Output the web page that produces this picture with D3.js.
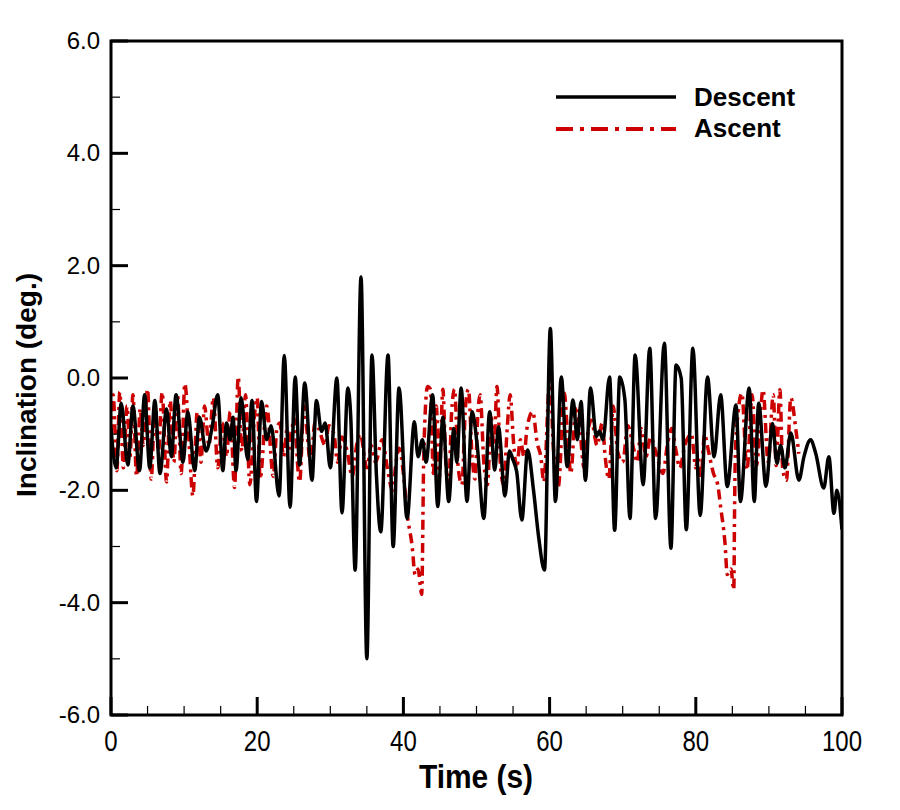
<!DOCTYPE html>
<html><head><meta charset="utf-8">
<script src="https://cdn.jsdelivr.net/npm/d3@7/dist/d3.min.js"></script>
<style>body{margin:0;background:#fff}</style>
</head><body>
<svg id="c" width="900" height="810"></svg>
<script>
const xTicks = [0, 20, 40, 60, 80, 100];
const yTicks = [-6, -4, -2, 0, 2, 4, 6];
const seriesNames = ["Descent", "Ascent"];

const descentT = [0,0.7,1.4,2.3,3.0,3.9,4.6,5.3,6.0,6.7,7.6,8.25,8.9,9.85,10.5,11.45,12.1,13.0,13.8,14.6,15.3,15.8,16.3,16.7,17.1,17.8,18.7,19.3,19.9,20.6,21.3,21.9,23.0,23.7,24.5,25.2,25.8,26.5,27.5,28.1,28.8,29.3,30.0,30.9,31.6,32.4,32.8,33.4,34.2,35.0,35.7,36.3,36.9,37.9,38.6,39.4,40.5,41.5,42.0,42.6,43.1,44.0,44.7,45.4,46.2,46.9,47.3,47.9,48.7,49.4,50.1,51.0,51.8,52.5,53.0,53.9,54.5,55.0,55.5,56.2,57.0,57.8,58.5,59.3,60.1,60.8,61.6,62.4,63.2,63.8,64.3,64.9,65.6,66.4,66.8,67.3,68.2,68.9,69.6,70.3,71.0,71.7,72.8,73.7,74.5,75.7,76.6,77.3,78.0,78.7,79.6,80.6,81.6,82.5,83.4,84.3,85.5,86.1,87.3,88.0,88.6,89.6,90.5,91.1,91.6,92.2,93.0,94.1,94.8,95.7,96.4,97.5,98.2,98.9,99.3,100];
const descentV = [-0.9,-1.6,-0.45,-1.55,-0.5,-1.65,-0.3,-1.6,-0.4,-1.7,-0.55,-1.4,-0.3,-1.5,-0.6,-1.65,-0.7,-1.3,-0.9,-0.3,-1.65,-0.8,-1.1,-0.7,-1.65,-0.35,-1.45,-0.4,-2.2,-0.42,-1.1,-0.85,-2.1,0.4,-2.3,0.02,-1.55,-0.09,-1.82,-0.4,-0.95,-0.8,-1.6,0.0,-2.4,-0.18,-0.7,-3.42,1.8,-5.0,0.41,-1.7,-2.74,0.41,-3.0,-0.18,-2.5,-0.78,-1.4,-1.1,-1.5,-0.3,-2.29,-0.7,-2.2,-0.9,-1.5,-0.18,-2.2,-0.6,-1.2,-2.5,-0.6,-1.64,-0.87,-2.1,-1.3,-1.46,-1.67,-2.53,-1.28,-2.0,-2.83,-3.42,0.88,-2.2,0.02,-1.58,-0.39,-1.1,-0.42,-1.82,-0.18,-1.04,-0.95,-1.1,0.02,-2.71,0.02,-0.39,-2.5,0.41,-1.9,0.53,-2.5,0.62,-3.03,0.23,0.0,-2.7,0.53,-2.45,0.02,-1.4,-0.3,-1.93,-0.48,-2.2,-0.18,-2.2,-0.45,-1.93,-0.81,-1.52,-1.2,-1.6,-0.98,-1.82,-1.4,-1.1,-1.34,-1.96,-1.4,-2.41,-2.0,-2.7];

const ascentT = [0,0.3,0.8,1.2,1.7,2.2,2.6,3.0,3.5,4.0,4.4,5.0,5.5,6.0,6.5,7.0,7.6,8.1,8.6,9.1,9.6,10.1,10.7,11.2,11.8,12.3,12.8,13.4,14.0,14.6,15.2,15.8,16.3,16.9,17.4,17.9,18.4,19.0,19.6,20.0,20.4,21.3,22.2,22.7,23.1,23.6,24.1,24.5,25.0,25.8,26.4,27.3,27.9,28.4,29.3,29.8,30.5,31.0,31.6,32.3,33.0,33.6,34.1,35.0,35.6,36.2,37.1,37.8,38.5,39.0,39.4,40.0,40.5,41.2,41.6,42.0,42.5,42.8,43.3,43.7,44.1,44.5,44.9,45.4,45.8,46.2,46.6,47.0,47.5,48.0,48.5,48.9,49.4,49.8,50.2,50.5,51.0,51.5,52.0,52.4,52.8,53.3,53.7,54.2,54.6,55.1,55.5,56.0,56.5,56.9,57.7,58.3,58.8,59.2,60.05,60.5,61.2,62.0,62.5,62.9,63.6,64.2,64.7,65.2,65.7,66.5,67.2,67.6,68.1,68.7,69.3,70.0,70.7,71.5,72.0,72.5,73.2,73.8,74.5,75.5,76.1,76.7,77.3,77.8,78.5,79.4,80.0,80.3,80.7,81.2,81.7,82.4,83.0,83.4,84.0,84.3,84.8,85.2,85.3,85.4,85.8,86.3,87.0,87.7,88.3,89.2,89.9,90.6,91.0,91.5,91.9,92.4,93.0,93.7,94.1];
const ascentV = [-1.0,-0.3,-1.65,-0.25,-1.6,-0.5,-1.4,-0.3,-1.75,-0.55,-1.2,-0.2,-1.8,-0.5,-1.3,-0.25,-1.85,-0.4,-1.5,-0.3,-1.7,-0.1,-1.2,-2.1,-0.6,-1.5,-0.5,-1.2,-0.35,-1.6,-0.8,-1.4,-0.6,-1.95,0.02,-1.3,-0.3,-1.9,-0.7,-0.35,-1.8,-0.5,-1.75,-0.9,-0.8,-1.4,-0.9,-1.25,-0.7,-1.85,-0.5,-1.5,-0.8,-0.9,-1.2,-0.85,-1.0,-1.5,-1.05,-1.3,-1.75,-1.2,-1.0,-1.6,-1.2,-1.5,-1.1,-1.6,-2.0,-1.5,-1.25,-1.7,-2.4,-3.0,-3.5,-3.4,-3.85,-1.3,-0.15,-0.2,-1.7,-0.5,-1.8,-0.2,-1.5,-1.9,-0.6,-0.2,-1.6,-1.9,-0.5,-0.2,-1.4,-1.8,-0.6,-0.3,-1.5,-1.9,-0.7,-1.2,-0.15,-1.6,-1.9,-0.9,-0.3,-1.2,-1.6,-1.1,-1.4,-0.9,-0.6,-1.16,-1.4,-1.85,0.02,-1.2,-1.93,-0.27,-1.1,-1.7,-0.5,-1.0,-1.6,-1.0,-0.75,-1.2,-0.8,-1.4,-1.8,-0.5,-1.3,-1.5,-0.85,-1.26,-1.5,-0.9,-1.4,-1.05,-1.3,-1.7,-1.2,-0.9,-1.3,-1.6,-1.2,-1.0,-1.6,-1.4,-1.8,-1.0,-1.28,-1.69,-1.9,-2.3,-2.95,-3.5,-3.4,-3.77,-2.4,-1.4,-0.6,-0.27,-1.64,-0.3,-1.56,-0.21,-1.5,-0.3,-1.56,-0.21,-1.64,-1.82,-0.35,-0.93,-1.35];

const svg = d3.select("#c");
const L = 111, R = 842, T = 41, B = 715;
const x = d3.scaleLinear().domain([0, 100]).range([L, R]);
const y = d3.scaleLinear().domain([-6, 6]).range([B, T]);

const line = d3.line().x(d => x(d[0])).y(d => y(d[1])).curve(d3.curveMonotoneX);
const dData = descentT.map((t, i) => [t, descentV[i]]);
const aData = ascentT.map((t, i) => [t, ascentV[i]]);

svg.append("clipPath").attr("id", "pc").append("rect")
  .attr("x", L).attr("y", T).attr("width", R - L).attr("height", B - T);

const red = "#cc0000";
svg.append("path").datum(aData).attr("d", line).attr("fill", "none")
  .attr("stroke", red).attr("stroke-width", 3.5).attr("stroke-dasharray", "10,5,3,5")
  .attr("clip-path", "url(#pc)");
svg.append("path").datum(dData).attr("d", line).attr("fill", "none")
  .attr("stroke", "#000").attr("stroke-width", 3.5).attr("stroke-linejoin", "round")
  .attr("clip-path", "url(#pc)");

// ticks (inside)
const g = svg.append("g").attr("stroke", "#000");
d3.range(0, 101, 5).forEach(v => {
  const major = v % 20 === 0;
  g.append("line").attr("x1", x(v)).attr("x2", x(v)).attr("y1", B).attr("y2", B - (major ? 18 : 9))
    .attr("stroke-width", major ? 3 : 1.2);
});
d3.range(-6, 6.01, 1).forEach(v => {
  const major = v % 2 === 0;
  g.append("line").attr("x1", L).attr("x2", L + (major ? 17 : 9)).attr("y1", y(v)).attr("y2", y(v))
    .attr("stroke-width", major ? 3 : 1.2);
});

// frame
svg.append("rect").attr("x", L).attr("y", T).attr("width", R - L).attr("height", B - T)
  .attr("fill", "none").attr("stroke", "#000").attr("stroke-width", 3);

const sans = "Liberation Sans, Arial, sans-serif";
// tick labels
svg.append("g").selectAll("text").data(yTicks).join("text")
  .attr("x", 100).attr("y", d => y(d) + 8).attr("text-anchor", "end")
  .attr("font-family", sans).attr("font-size", 24)
  .text(d => d.toFixed(1));
svg.append("g").selectAll("text").data(xTicks).join("text")
  .attr("transform", d => `translate(${x(d)},751) scale(0.8,1)`).attr("text-anchor", "middle")
  .attr("font-family", sans).attr("font-size", 30)
  .text(d => d);

// axis titles
svg.append("text").attr("transform", "translate(476,788) scale(0.88,1)").attr("text-anchor", "middle")
  .attr("font-family", sans).attr("font-weight", "bold")
  .attr("font-size", 34).text("Time (s)");
svg.append("text").attr("transform", "translate(36,385) rotate(-90)").attr("text-anchor", "middle")
  .attr("font-family", sans).attr("font-weight", "bold")
  .attr("font-size", 28).text("Inclination (deg.)");

// legend
const leg = svg.append("g");
leg.append("line").attr("x1", 556).attr("x2", 676).attr("y1", 97).attr("y2", 97)
  .attr("stroke", "#000").attr("stroke-width", 3.5);
leg.append("line").attr("x1", 556).attr("x2", 676).attr("y1", 129).attr("y2", 129)
  .attr("stroke", red).attr("stroke-width", 4).attr("stroke-dasharray", "17,7,4,7");
leg.selectAll("text").data(seriesNames).join("text")
  .attr("x", 694).attr("y", (d, i) => 106 + i * 31)
  .attr("font-family", sans).attr("font-weight", "bold")
  .attr("font-size", 26).text(d => d);
</script>
</body></html>
